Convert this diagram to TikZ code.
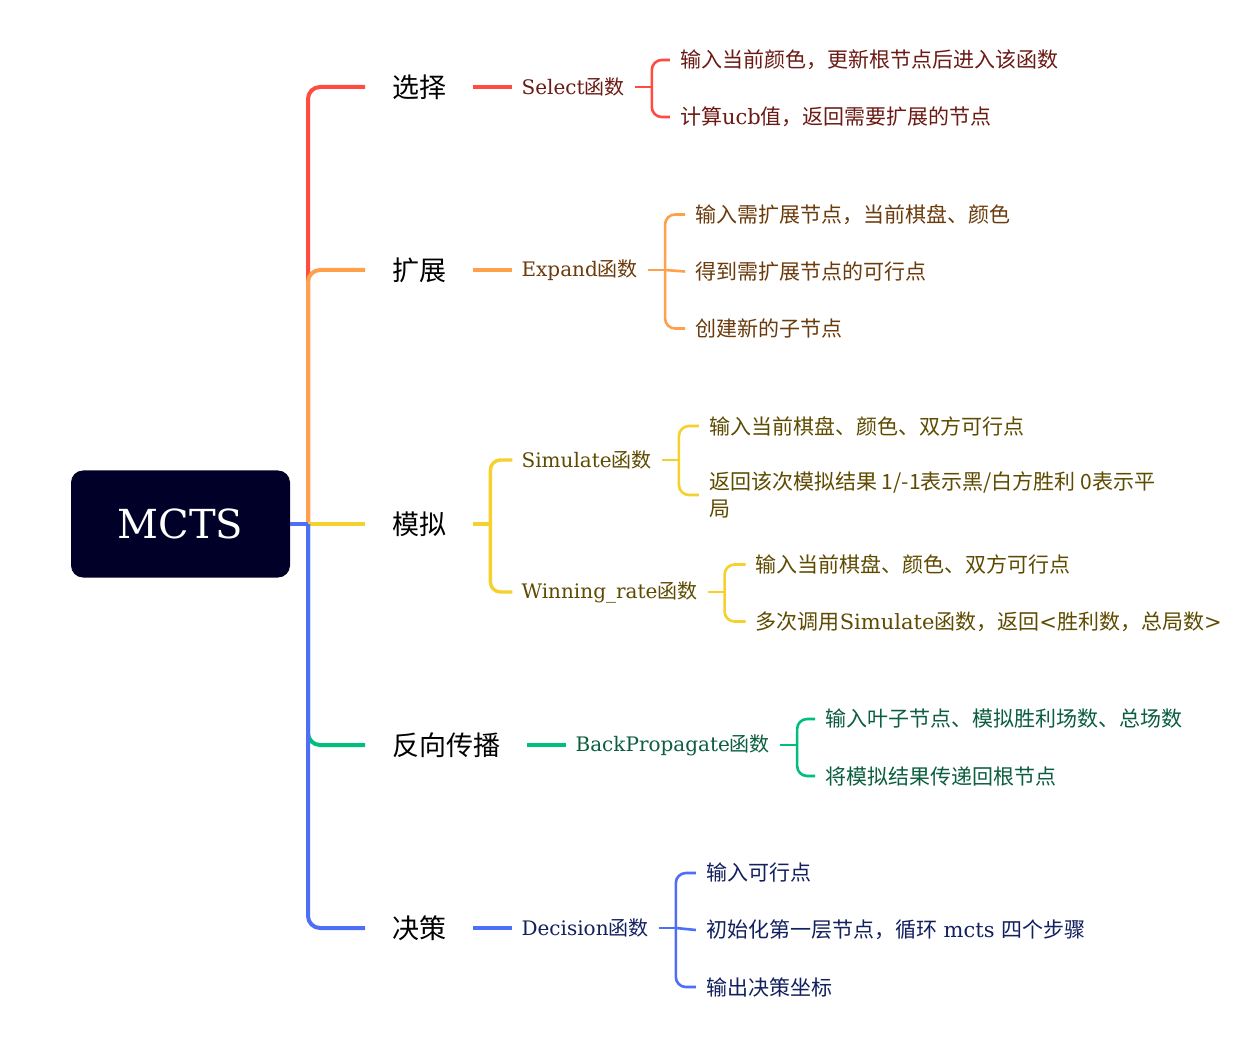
\documentclass[tikz,border=0pt]{standalone}
\usepackage{fontspec}
\setmainfont{DejaVu Serif}
\newfontfamily\cjk{Noto Sans CJK SC}
\newcommand{\zh}[1]{{\cjk #1}}
\definecolor{cRed}{HTML}{FF4B40}
\definecolor{cOrg}{HTML}{FFA04C}
\definecolor{cYel}{HTML}{F6D02C}
\definecolor{cGrn}{HTML}{00BF7A}
\definecolor{cBlu}{HTML}{4D6EF7}
\definecolor{tRed}{HTML}{6B1A14}
\definecolor{tOrg}{HTML}{6B3B0C}
\definecolor{tYel}{HTML}{5E4B00}
\definecolor{tGrn}{HTML}{0B5E3F}
\definecolor{tBlu}{HTML}{13205E}
\definecolor{rootc}{HTML}{000028}
\begin{document}
\begin{tikzpicture}[x=1pt,y=-1pt,
  rootbox/.style={fill=rootc, rounded corners=12pt, minimum width=219pt, minimum height=107pt, inner sep=0pt, text=white, font=\fontsize{40}{48}\selectfont},
  mainlbl/.style={anchor=west, inner sep=0pt, font=\fontsize{27}{32}\selectfont\cjk, text=black},
  fnlbl/.style={anchor=west, inner sep=0pt, font=\fontsize{20}{27}\selectfont},
  leaf/.style={anchor=west, inner sep=0pt, font=\fontsize{21}{27}\selectfont, align=left},
  trunkline/.style={line width=4pt, rounded corners=12pt},
  stubline/.style={line width=4pt},
  twig/.style={line width=2.6pt, rounded corners=10pt}]
\fill[white] (0,0) rectangle (1243,1040);
\useasboundingbox (0,0) rectangle (1243,1040);

% root and main labels
\node[rootbox] (root) at (180.5,524) {MCTS};
\coordinate (T) at (308,524);
\node[mainlbl] (sel) at (392,87) {选择};
\node[mainlbl] (exp) at (392,270) {扩展};
\node[mainlbl] (sim) at (392,524) {模拟};
\node[mainlbl] (bp) at (392,745) {反向传播};
\node[mainlbl] (dec) at (392,928) {决策};

% trunk branches
\draw[trunkline, cRed] (T) |- ([xshift=-27pt]sel.west);
\draw[trunkline, cOrg] (T) |- ([xshift=-27pt]exp.west);
\draw[trunkline, cYel] (T) -- ([xshift=-27pt]sim.west);
\draw[trunkline, cGrn] (T) |- ([xshift=-27pt]bp.west);
\draw[trunkline, cBlu] (T) |- ([xshift=-27pt]dec.west);
\draw[stubline, cBlu] (root.east) -- (T);

% function labels
\node[fnlbl, text=tRed] (fSel) at ([xshift=75pt]sel.east) {Select\zh{函数}};
\node[fnlbl, text=tOrg] (fExp) at ([xshift=75pt]exp.east) {Expand\zh{函数}};
\coordinate (mb) at ([xshift=44pt]sim.east);
\node[fnlbl, text=tYel] (fSim) at ([xshift=31pt,yshift=64pt]mb) {Simulate\zh{函数}};
\node[fnlbl, text=tYel] (fWin) at ([xshift=31pt,yshift=-68pt]mb) {Winning\_rate\zh{函数}};
\node[fnlbl, text=tGrn] (fBp) at ([xshift=75pt]bp.east) {BackPropagate\zh{函数}};
\node[fnlbl, text=tBlu] (fDec) at ([xshift=75pt]dec.east) {Decision\zh{函数}};

\draw[stubline, cRed] ([xshift=27pt]sel.east) -- ([xshift=-9pt]fSel.west);
\draw[stubline, cOrg] ([xshift=27pt]exp.east) -- ([xshift=-9pt]fExp.west);
\draw[stubline, cGrn] ([xshift=27pt]bp.east) -- ([xshift=-9pt]fBp.west);
\draw[stubline, cBlu] ([xshift=27pt]dec.east) -- ([xshift=-9pt]fDec.west);
\draw[stubline, cYel] ([xshift=27pt]sim.east) -- (mb);
\draw[trunkline, line width=3.4pt, rounded corners=10pt, cYel] ([xshift=-9pt]fSim.west) -| (mb) |- ([xshift=-9pt]fWin.west);

% Select leaves
\coordinate (bSel) at ([xshift=27pt]fSel.east);
\node[leaf, text=tRed] (l11) at ([xshift=28pt,yshift=27pt]bSel) {\zh{输入当前颜色，更新根节点后进入该函数}};
\node[leaf, text=tRed] (l12) at ([xshift=28pt,yshift=-30pt]bSel) {\zh{计算}ucb\zh{值，返回需要扩展的节点}};
\draw[twig, cRed] ([xshift=10pt]fSel.east) -- (bSel);
\draw[twig, cRed] ([xshift=-10pt]l11.west) -| (bSel) |- ([xshift=-10pt]l12.west);

% Expand leaves
\coordinate (bExp) at ([xshift=27pt]fExp.east);
\node[leaf, text=tOrg] (l21) at ([xshift=30pt,yshift=55.5pt]bExp) {\zh{输入需扩展节点，当前棋盘、颜色}};
\node[leaf, text=tOrg] (l22) at ([xshift=30pt,yshift=-1.5pt]bExp) {\zh{得到需扩展节点的可行点}};
\node[leaf, text=tOrg] (l23) at ([xshift=30pt,yshift=-58.5pt]bExp) {\zh{创建新的子节点}};
\draw[twig, cOrg] ([xshift=10pt]fExp.east) -- (bExp);
\draw[twig, cOrg] ([xshift=-10pt]l21.west) -| (bExp) |- ([xshift=-10pt]l23.west);
\draw[twig, cOrg] (bExp) -- ([xshift=-10pt]l22.west);

% Simulate leaves
\coordinate (bSim) at ([xshift=27pt]fSim.east);
\node[leaf, text=tYel] (l31) at ([xshift=30pt,yshift=34pt]bSim) {\zh{输入当前棋盘、颜色、双方可行点}};
\node[leaf, text=tYel] (l32) at ([xshift=30pt,yshift=-35pt]bSim) {\zh{返回该次模拟结果 1/-1表示黑/白方胜利 0表示平}\\\zh{局}};
\draw[twig, cYel] ([xshift=10pt]fSim.east) -- (bSim);
\draw[twig, cYel] ([xshift=-10pt]l31.west) -| (bSim) |- ([xshift=-10pt]l32.west);

% Winning_rate leaves
\coordinate (bWin) at ([xshift=27pt]fWin.east);
\node[leaf, text=tYel] (l41) at ([xshift=31pt,yshift=27.5pt]bWin) {\zh{输入当前棋盘、颜色、双方可行点}};
\node[leaf, text=tYel] (l42) at ([xshift=31pt,yshift=-29.5pt]bWin) {\zh{多次调用}Simulate\zh{函数，返回}<\zh{胜利数，总局数}>};
\draw[twig, cYel] ([xshift=10pt]fWin.east) -- (bWin);
\draw[twig, cYel] ([xshift=-10pt]l41.west) -| (bWin) |- ([xshift=-10pt]l42.west);

% BackPropagate leaves
\coordinate (bBp) at ([xshift=27pt]fBp.east);
\node[leaf, text=tGrn] (l51) at ([xshift=28pt,yshift=26pt]bBp) {\zh{输入叶子节点、模拟胜利场数、总场数}};
\node[leaf, text=tGrn] (l52) at ([xshift=28pt,yshift=-31pt]bBp) {\zh{将模拟结果传递回根节点}};
\draw[twig, cGrn] ([xshift=10pt]fBp.east) -- (bBp);
\draw[twig, cGrn] ([xshift=-10pt]l51.west) -| (bBp) |- ([xshift=-10pt]l52.west);

% Decision leaves
\coordinate (bDec) at ([xshift=27pt]fDec.east);
\node[leaf, text=tBlu] (l61) at ([xshift=30pt,yshift=55pt]bDec) {\zh{输入可行点}};
\node[leaf, text=tBlu] (l62) at ([xshift=30pt,yshift=-2pt]bDec) {\zh{初始化第一层节点，循环} mcts \zh{四个步骤}};
\node[leaf, text=tBlu] (l63) at ([xshift=30pt,yshift=-59pt]bDec) {\zh{输出决策坐标}};
\draw[twig, cBlu] ([xshift=10pt]fDec.east) -- (bDec);
\draw[twig, cBlu] ([xshift=-10pt]l61.west) -| (bDec) |- ([xshift=-10pt]l63.west);
\draw[twig, cBlu] (bDec) -- ([xshift=-10pt]l62.west);
\end{tikzpicture}
\end{document}
